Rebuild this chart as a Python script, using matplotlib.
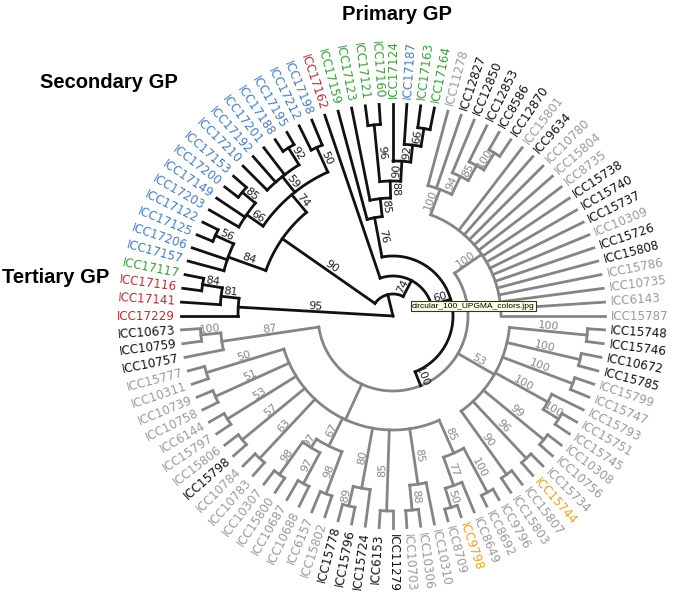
import numpy as np
import matplotlib
matplotlib.use('Agg')
import matplotlib.pyplot as plt

# tree nodes are (bootstrap, node radius, children); leaves are accession names
# children are listed in clockwise order
tertiary = (95, 155, ['ICC17229', (81, 173, ['ICC17141', (84, 193, ['ICC17116', 'ICC17117'])])])

sec_a = (84, 175, ['ICC17157', 'ICC17206', (56, 195, ['ICC17125', 'ICC17122'])])
sec_b = (74, 158, [(66, 178, ['ICC17203', 'ICC17149', (85, 195, ['ICC17200', 'ICC17153'])]),
                   (59, 178, ['ICC17210', 'ICC17192', 'ICC17201', (92, 198, ['ICC17188', 'ICC17195'])]),
                   (50, 185, ['ICC17212', 'ICC17198'])])
secondary = (90, 135, [sec_a, sec_b])

primary = (76, 100, ['ICC17159',
                     (85, 118, ['ICC17123',
                                (88, 135, [(96, 192, ['ICC17121', 'ICC17160']),
                                           (90, 155, ['ICC17124',
                                                      (92, 172, ['ICC17187',
                                                                 (66, 190, ['ICC17163', 'ICC17164'])])])])])])

cult_top = (100, 108, [(100, 135, ['ICC11278', 'ICC12827',
                                   (94, 155, ['ICC12850', (85, 172, ['ICC12853', (100, 192, ['ICC8586', 'ICC12870'])])])]),
                       'ICC15801', 'ICC9634', 'ICC10780', 'ICC15804', 'ICC8735', 'ICC15738', 'ICC15740',
                       'ICC15737', 'ICC10309', 'ICC15726', 'ICC15808', 'ICC15786', 'ICC10735', 'ICC6143', 'ICC15787'])

cult_right = (53, 117, [(100, 195, ['ICC15748', 'ICC15746']),
                        (100, 192, ['ICC10672', 'ICC15785']),
                        (100, 192, ['ICC15799', 'ICC15747']),
                        (100, 177, ['ICC15793', (100, 195, ['ICC15751', 'ICC15745'])]),
                        (99, 195, ['ICC10308', 'ICC10756']),
                        (96, 195, ['ICC15734', 'ICC15744']),
                        (90, 195, ['ICC15807', 'ICC15803'])])

cult_bottom = (None, 114, [(85, 150, [(100, 200, ['ICC9796', 'ICC8692']),
                                      (77, 180, ['ICC8649', (50, 200, ['ICC9798', 'ICC8709'])])]),
                           (85, 170, ['ICC10310', (88, 195, ['ICC10306', 'ICC10703'])]),
                           (85, 195, ['ICC11279', 'ICC6153']),
                           (80, 175, ['ICC15724', (89, 195, ['ICC15796', 'ICC15778'])]),
                           (67, 145, [(98, 190, ['ICC15802', 'ICC6157']),
                                      (97, 155, [(97, 190, ['ICC10688', 'ICC10687']),
                                                 (98, 195, ['ICC15800', 'ICC10307'])])]),
                           (63, 195, ['ICC10783', 'ICC10784']),
                           (57, 195, ['ICC15798', 'ICC15806']),
                           (53, 195, ['ICC15797', 'ICC6144']),
                           (51, 195, ['ICC10758', 'ICC10739']),
                           (50, 195, ['ICC10311', 'ICC15777'])])

cult_left = (87, 173, ['ICC10757', (100, 193, ['ICC10759', 'ICC10673'])])

cultivated = (100, 75, [cult_top, cult_right, cult_bottom, cult_left])
inner = (60, 60, [primary, cultivated])
wild_mid = (74, 40, ['ICC17162', inner])
wild = (None, 22, [secondary, wild_mid])
root = (None, 0, [tertiary, wild])

red_leaves = ['ICC17229', 'ICC17141', 'ICC17116', 'ICC17162']
green_leaves = ['ICC17117', 'ICC17159', 'ICC17123', 'ICC17121', 'ICC17160', 'ICC17124', 'ICC17163', 'ICC17164']
blue_leaves = ['ICC17157', 'ICC17206', 'ICC17125', 'ICC17122', 'ICC17203', 'ICC17149', 'ICC17200', 'ICC17153',
               'ICC17210', 'ICC17192', 'ICC17201', 'ICC17188', 'ICC17195', 'ICC17212', 'ICC17198', 'ICC17187']
black_leaves = ['ICC12827', 'ICC12850', 'ICC12853', 'ICC8586', 'ICC12870', 'ICC9634', 'ICC15738', 'ICC15740',
                'ICC15737', 'ICC15726', 'ICC15808', 'ICC15748', 'ICC15746', 'ICC10672', 'ICC15785', 'ICC11279',
                'ICC6153', 'ICC15724', 'ICC15796', 'ICC15778', 'ICC15798', 'ICC10757', 'ICC10759', 'ICC10673']
orange_leaves = ['ICC15744', 'ICC9798']

BLACK = '#111111'
GRAY = '#858585'
TIP = 212
STEP = 3.75
LW = 2.0

def leaf_color(name):
    if name in red_leaves: return '#a8333f'
    if name in green_leaves: return '#3d9a3d'
    if name in blue_leaves: return '#4a7db5'
    if name in orange_leaves: return '#e3a12f'
    if name in black_leaves: return '#111111'
    return '#9a9a9a'

def rot_for(a):
    a = (a + 180) % 360 - 180
    if -90 <= a <= 90:
        return a, 'left'
    return a - 180 if a > 0 else a + 180, 'right'

fig = plt.figure(figsize=(6.78, 6.0), dpi=100)
ax = fig.add_axes([93 / 678, -16 / 600, 600 / 678, 600 / 600], projection='polar')
ax.set_ylim(0, 300)
ax.axis('off')

count = [0]

def draw(node, parent_r, col):
    if isinstance(node, str):
        a = 180 - STEP * count[0]
        count[0] += 1
        t = np.radians(a)
        ax.plot([t, t], [parent_r, TIP], color=col, lw=LW)
        rot, ha = rot_for(a)
        ax.text(t, TIP + 6, node, rotation=rot, rotation_mode='anchor', ha=ha, va='center',
                fontsize=8.6, color=leaf_color(node))
        return a
    sup, r, kids = node
    kcol = GRAY if (node is cultivated or col == GRAY) else BLACK
    ch = [draw(k, r, kcol) for k in kids]
    a = (ch[0] + ch[-1]) / 2
    th = np.radians(np.linspace(ch[0], ch[-1], 80))
    if r > 0:
        ax.plot(th, np.full(th.size, r), color=kcol, lw=LW)
        t = np.radians(a)
        ax.plot([t, t], [parent_r, r], color=col, lw=LW)
        if sup is not None:
            rot, _ = rot_for(a)
            ax.text(t, (parent_r + r) / 2, str(sup), rotation=rot, rotation_mode='anchor',
                    ha='center', va='bottom', fontsize=8,
                    color='#222222' if col == BLACK else '#8a8a8a')
    return a

draw(root, 0, BLACK)

fig.text(397 / 678, 1 - 20 / 600, 'Primary GP', ha='center', va='baseline',
         fontsize=14.5, fontweight='bold', family='Liberation Sans')
fig.text(109 / 678, 1 - 88 / 600, 'Secondary GP', ha='center', va='baseline',
         fontsize=14.5, fontweight='bold', family='Liberation Sans')
fig.text(2 / 678, 1 - 283 / 600, 'Tertiary GP', ha='left', va='baseline',
         fontsize=14.5, fontweight='bold', family='Liberation Sans')
fig.text(412 / 678, 1 - 306 / 600, 'circular_100_UPGMA_colors.jpg', ha='left', va='center',
         fontsize=6, family='Liberation Sans',
         bbox=dict(boxstyle='square,pad=0.15', fc='#ffffe1', ec='#333333', lw=0.8))

fig.savefig('out.png', dpi=100, facecolor='white')
